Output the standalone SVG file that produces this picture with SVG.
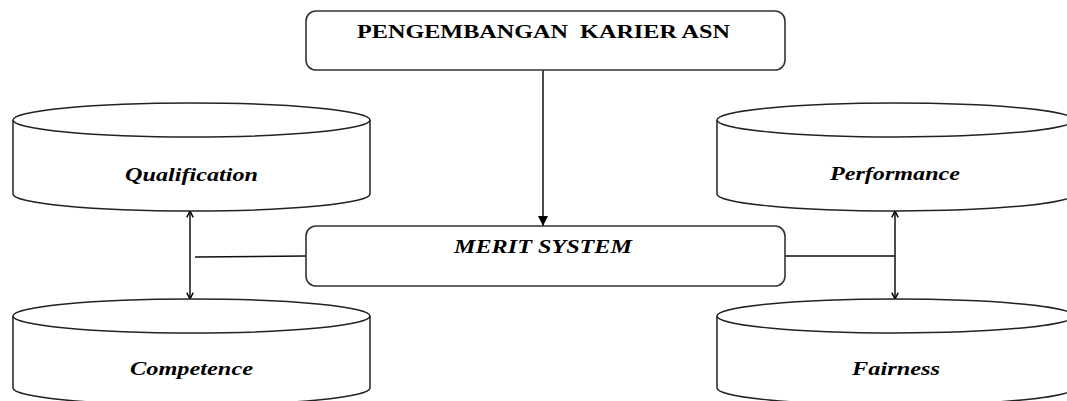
<svg xmlns="http://www.w3.org/2000/svg" width="1067" height="401" viewBox="0 0 1067 401">
<style>
.box{fill:#fff;stroke:#333;stroke-width:1.6}
.cyl{fill:#fff;stroke:#222;stroke-width:1.5}
.lbl{font-family:"Liberation Serif",serif;font-weight:bold;font-style:italic;font-size:18px;fill:#000;text-anchor:middle}
.ttl{font-family:"Liberation Serif",serif;font-weight:bold;font-size:18px;fill:#000;text-anchor:middle}
.con{fill:none;stroke:#111;stroke-width:1.5}
</style>
<defs>
<marker id="tri" viewBox="0 0 10 10" refX="10" refY="5" markerWidth="10" markerHeight="10" markerUnits="userSpaceOnUse" orient="auto">
<path d="M0,0 L10,5 L0,10 z" fill="#000"/>
</marker>
<marker id="opn" viewBox="0 0 10 10" refX="9" refY="5" markerWidth="8" markerHeight="8" markerUnits="userSpaceOnUse" orient="auto-start-reverse">
<path d="M1,1 L9,5 L1,9" fill="none" stroke="#000" stroke-width="1.8"/>
</marker>
</defs>
<g id="connectors">
<line class="con" x1="543" y1="70" x2="543" y2="226" marker-end="url(#tri)"/>
<line class="con" x1="190" y1="211" x2="190" y2="299" marker-start="url(#opn)" marker-end="url(#opn)"/>
<line class="con" x1="195" y1="257" x2="306" y2="256" stroke="#444"/>
<line class="con" x1="895" y1="211" x2="895" y2="299" marker-start="url(#opn)" marker-end="url(#opn)"/>
<line class="con" x1="785" y1="256" x2="895" y2="256" stroke="#444"/>
</g>
<g id="pengembangan">
<rect class="box" x="306" y="11" width="479" height="59" rx="10"/>
<text class="ttl" x="543.5" y="38" textLength="373" lengthAdjust="spacingAndGlyphs">PENGEMBANGAN&#160; KARIER ASN</text>
</g>
<g id="merit">
<rect class="box" x="306" y="226" width="479" height="60" rx="10"/>
<text class="lbl" x="543" y="253" font-size="19" textLength="178" lengthAdjust="spacingAndGlyphs">MERIT SYSTEM</text>
</g>
<g id="qualification">
<path class="cyl" d="M13,120 L13,194 A178.5,17 0 0 0 370,194 L370,120"/>
<ellipse class="cyl" cx="191.5" cy="120" rx="178.5" ry="17"/>
<text class="lbl" x="191.5" y="181" textLength="133" lengthAdjust="spacingAndGlyphs">Qualification</text>
</g>
<g id="competence">
<path class="cyl" d="M13,316 L13,388 A178.5,17 0 0 0 370,388 L370,316"/>
<ellipse class="cyl" cx="191.5" cy="316" rx="178.5" ry="17"/>
<text class="lbl" x="191.5" y="375" textLength="123" lengthAdjust="spacingAndGlyphs">Competence</text>
</g>
<g id="performance">
<path class="cyl" d="M717,120 L717,194 A178.5,17 0 0 0 1074,194 L1074,120"/>
<ellipse class="cyl" cx="895.5" cy="120" rx="178.5" ry="17"/>
<text class="lbl" x="895" y="180" textLength="130" lengthAdjust="spacingAndGlyphs">Performance</text>
</g>
<g id="fairness">
<path class="cyl" d="M717,316 L717,388 A178.5,17 0 0 0 1074,388 L1074,316"/>
<ellipse class="cyl" cx="895.5" cy="316" rx="178.5" ry="17"/>
<text class="lbl" x="896" y="375" textLength="88" lengthAdjust="spacingAndGlyphs">Fairness</text>
</g>
</svg>
